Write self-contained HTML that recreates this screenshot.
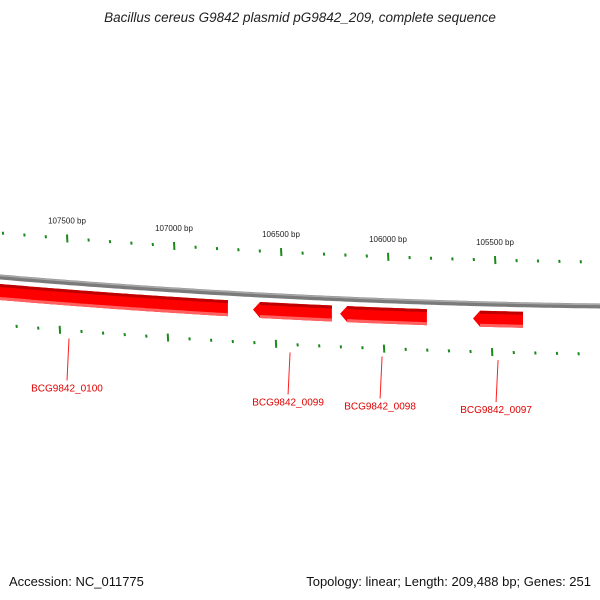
<!DOCTYPE html>
<html><head><meta charset="utf-8"><style>
html,body{margin:0;padding:0;background:#fff;width:600px;height:600px;overflow:hidden}
svg text{font-family:"Liberation Sans","DejaVu Sans",sans-serif}
</style></head><body>
<svg id="c" width="600" height="600" xmlns="http://www.w3.org/2000/svg">
<text x="300" y="22" text-anchor="middle" font-size="13.5" font-style="italic" fill="#222">Bacillus cereus G9842 plasmid pG9842_209, complete sequence</text>
<text x="9" y="586" font-size="13" fill="#111">Accession: NC_011775</text>
<text x="591" y="586" text-anchor="end" font-size="13" fill="#111">Topology: linear; Length: 209,488 bp; Genes: 251</text>
<g id="g"></g>
</svg>
<script>
const majorTicks=[107500,107000,106500,106000,105500];
const tickStart=107900, tickEnd=105000, tickStep=100;
const geneNames=["BCG9842_0100","BCG9842_0099","BCG9842_0098","BCG9842_0097"];
const geneStart=[108000,106631,106224,105603];
const geneEnd=[106748,106262,105818,105369];
const geneStrand=[-1,-1,-1,-1];
const geneLabelBp=[107500,106467,106037,105495];

const NS="http://www.w3.org/2000/svg";
const G=document.getElementById('g');
function bx(bp){return 67+(107500-bp)*107/500;}
function by(x){return 277+0.085*x-6.11e-5*x*x;}
function mk(t,a){const e=document.createElementNS(NS,t);for(const k in a)e.setAttribute(k,a[k]);G.appendChild(e);return e;}
function arcPts(x0,x1,off){let p=[];for(let x=x0;x<=x1;x+=5)p.push(x+','+(by(x)+off).toFixed(1));p.push(x1+','+(by(x1)+off).toFixed(1));return p;}

let bb=mk('polyline',{points:arcPts(-5,605,0).join(' '),fill:'none',stroke:'#7a7a7a','stroke-width':5});


let bb2=mk('polyline',{points:arcPts(-5,605,-1.5).join(' '),fill:'none',stroke:'#a8a8a8','stroke-width':1.5});



for(let bp=tickStart;bp>=tickEnd;bp-=tickStep){
  const x=bx(bp); if(x<0||x>600)continue;
  const major=majorTicks.includes(bp);
  const yo=by(x)-44;
  const len=major?8:3;
  let t=mk('line',{x1:x,y1:yo-len/2,x2:x+0.4,y2:yo+len/2,stroke:'#1a8a1a','stroke-width':2});
  
  
  const xi=x-8+6*x/600; const yi=by(xi)+48;
  let t2=mk('line',{x1:xi,y1:yi-len/2,x2:xi+0.4,y2:yi+len/2,stroke:'#1a8a1a','stroke-width':2});
  
  
  if(major){
    let l=mk('text',{x:x,y:by(x)-59,'text-anchor':'middle','font-size':8,fill:'#222'});
    l.textContent=bp+' bp';
    
    
  }
}

for(let i=0;i<geneNames.length;i++){
  let x0=bx(geneStart[i]),x1=bx(geneEnd[i]);
  const a=7,b=23,ah=7;
  let top=[],bot=[];
  let s=geneStrand[i]<0?x0+ah:x0, e=geneStrand[i]>0?x1-ah:x1;
  for(let x=s;x<=e;x+=4){top.push([x,by(x)+a]);bot.push([x,by(x)+b]);}
  top.push([e,by(e)+a]);bot.push([e,by(e)+b]);
  let pts=top.slice();
  if(geneStrand[i]>0)pts.push([x1,by(x1)+(a+b)/2]);
  pts=pts.concat(bot.reverse());
  if(geneStrand[i]<0)pts.push([x0,by(x0)+(a+b)/2]);
  let p=mk('polygon',{points:pts.map(q=>q[0].toFixed(1)+','+q[1].toFixed(1)).join(' '),fill:'#ff0000'});
  
  
  let d=mk('polyline',{points:arcPts(Math.round(s),Math.round(e),a+1.5).join(' '),fill:'none',stroke:'#c00000','stroke-width':3});
  
  
  let lt=mk('polyline',{points:arcPts(Math.round(s),Math.round(e),b-1.5).join(' '),fill:'none',stroke:'#ff6060','stroke-width':3});
  
  
  const lx=bx(geneLabelBp[i]);
  const y0=by(lx)+56;
  let ln=mk('line',{x1:lx+2,y1:y0,x2:lx,y2:y0+42,stroke:'#ff2020','stroke-width':1});
  
  
  let tx=mk('text',{x:lx,y:y0+53,'text-anchor':'middle','font-size':10,fill:'#e00000'});
  tx.textContent=geneNames[i];
  
  
}
</script>
</body></html>
